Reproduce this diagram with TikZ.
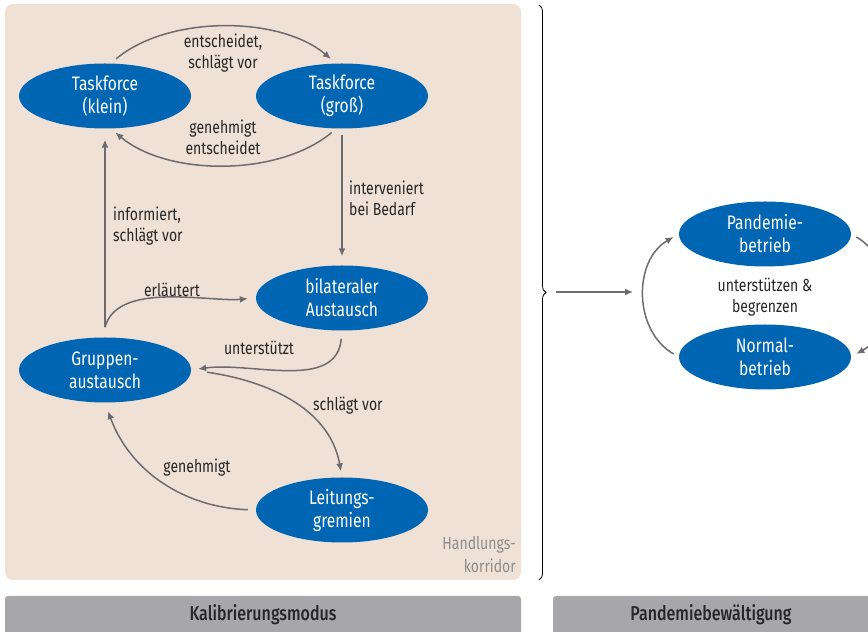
\documentclass[tikz,border=0pt]{standalone}
\usepackage{fontspec}
\setmainfont{Fira Sans}[FakeStretch=0.8, BoldFont={Fira Sans Medium}]
\usepackage{tikz}
\usetikzlibrary{shapes,arrows,arrows.meta,decorations.pathreplacing}
\definecolor{corridor}{RGB}{240,225,214}
\definecolor{unitblue}{RGB}{0,102,179}
\definecolor{linegray}{RGB}{108,108,112}
\definecolor{bargray}{RGB}{167,167,171}
\definecolor{darktext}{RGB}{38,38,38}
\tikzstyle{unit} = [ellipse, fill=unitblue, text=white, minimum width=172pt,
    minimum height=65pt, inner sep=0pt, align=center,
    font=\fontsize{19.5}{23}\selectfont]
\tikzstyle{arrow} = [draw, -{Latex[length=8pt,width=7pt]}, line width=1.5pt, linegray]
\tikzstyle{lbl} = [text=darktext, inner sep=0pt, font=\fontsize{17.5}{21}\selectfont]
\tikzstyle{bar} = [fill=bargray, rounded corners=3pt]

\begin{document}
\begin{tikzpicture}[x=1pt, y=1pt]
    \useasboundingbox (0,0) rectangle (868,632);
    % Handlungskorridor and bottom bars
    \fill[corridor, rounded corners=8pt] (5,52) rectangle (521,628);
    \fill[bar] (5,-6) rectangle (521,36);
    \fill[bar] (553,-6) rectangle (880,36);
    \node[text=darktext, font=\fontsize{20}{22}\bfseries] (kalib) at (263,17) {Kalibrierungsmodus};
    \node[text=darktext, font=\fontsize{20}{22}\bfseries] (bewaelt) at (711,17) {Pandemiebewältigung};
    \node[text=black!45, align=right, anchor=east, inner sep=0pt,
      font=\fontsize{17.5}{23}\selectfont] (korridor) at (516,77) {Handlungs-\\korridor};

    % units
    \node[unit] (klein) at (105,536) {Taskforce\\(klein)};
    \node[unit] (gross) at (342,536) {Taskforce\\(groß)};
    \node[unit] (bilat) at (342,334) {bilateraler\\Austausch};
    \node[unit] (gruppe) at (105,262) {Gruppen-\\austausch};
    \node[unit] (leitung) at (342,122) {Leitungs-\\gremien};
    \node[unit] (pandemie) at (765,398) {Pandemie-\\betrieb};
    \node[unit] (normal) at (765,275) {Normal-\\betrieb};

    % connectors
    \draw[arrow, shorten <=7pt, shorten >=7pt] (klein.80) to[out=40, in=140, looseness=0.85] (gross.100);
    \draw[arrow, shorten <=6pt, shorten >=6pt] (gross.260) to[out=-140, in=-40, looseness=0.85] (klein.280);
    \draw[arrow, shorten <=6pt, shorten >=9pt] (gross) -- (bilat);
    \coordinate (split) at ([yshift=10pt]gruppe.north);
    \draw[arrow, shorten >=11pt] (split) -- (klein);
    \draw[arrow, shorten >=8pt] (split) to[out=75, in=185, looseness=0.8] (bilat.west);
    \draw[arrow, shorten <=8pt, shorten >=7pt] (bilat.south) to[out=-95, in=8] (gruppe.east);
    \draw[arrow, shorten <=16pt, shorten >=6pt] (gruppe.east) to[out=-8, in=100] (leitung.north);
    \draw[arrow, shorten <=8pt, shorten >=9pt] (leitung.west) to[out=178, in=-70] (gruppe.south);
    \draw[arrow, shorten <=6pt, shorten >=6pt] (normal.west) to[out=150, in=210, looseness=1.1] (pandemie.west);
    \draw[arrow, shorten <=6pt, shorten >=6pt] (pandemie.east) to[out=-30, in=30, looseness=1.1] (normal.east);

    % labels
    \node[lbl, align=center] (l1) at (223,579) {entscheidet,\\schlägt vor};
    \node[lbl, align=center] (l2) at (223,495) {genehmigt\\entscheidet};
    \node[lbl, align=left, anchor=west] (l3) at (349,434) {interveniert\\bei Bedarf};
    \node[lbl, align=left, anchor=west] (l4) at (113,406) {informiert,\\schlägt vor};
    \node[lbl] (l5) at (172,342) {erläutert};
    \node[lbl] (l6) at (259,284) {unterstützt};
    \node[lbl, anchor=west] (l7) at (313,226) {schlägt vor};
    \node[lbl] (l8) at (197,164) {genehmigt};
    \node[lbl, align=center] (l9) at (765,335) {unterstützen \&\\begrenzen};

    % brace and transition
    \draw[decorate, decoration={brace, amplitude=7pt}, line width=0.8pt] (539,627) -- (539,52);
    \coordinate (bracetip) at (556,340);
    \coordinate (cycle) at (633,340);
    \draw[arrow] (bracetip) -- (cycle);
\end{tikzpicture}
\end{document}
